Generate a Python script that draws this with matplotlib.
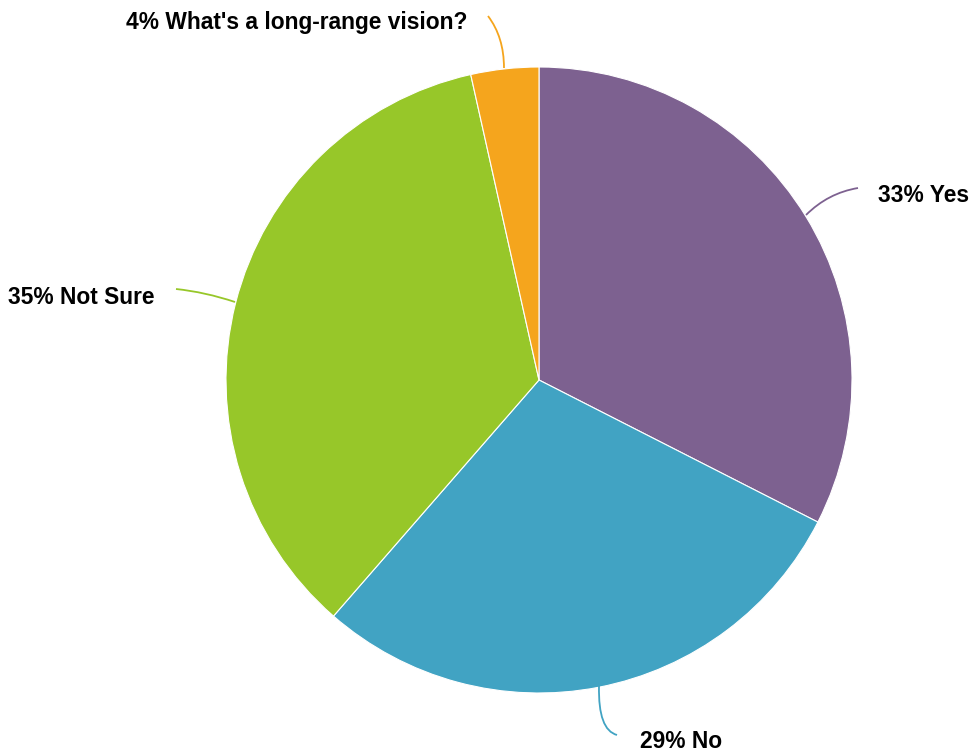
import matplotlib.pyplot as plt
from matplotlib.path import Path
from matplotlib.patches import PathPatch

# Datos del gráfico
labels = ["Yes", "No", "Not Sure", "What's a long-range vision?"]
values = [32.5, 28.9, 35.1, 3.5]
pct_text = ["33%", "29%", "35%", "4%"]
colors = ["#7D6190", "#41A3C3", "#97C729", "#F5A51D"]

W, H = 974, 755
cx, cy, r = 539, H - 380, 313

fig = plt.figure(figsize=(W / 100, H / 100), dpi=100)
ax = fig.add_axes([0, 0, 1, 1])

ax.pie(values, colors=colors, startangle=90, counterclock=False,
       center=(cx, cy), radius=r, frame=True,
       wedgeprops={"linewidth": 0.8, "edgecolor": "white"})
ax.set_xlim(0, W)
ax.set_ylim(0, H)
ax.set_aspect("equal")
ax.axis("off")

# Líneas guía (inicio, control, fin) en coordenadas de imagen
leaders = [
    [(806, 215), (828, 193), (858, 188)],
    [(599, 686), (598, 730), (617, 735)],
    [(235, 302), (205, 292), (176, 289)],
    [(504, 68), (504, 37), (488, 16)],
]
text_pos = [(878, 195, "left"), (640, 742, "left"),
            (155, 297, "right"), (467, 22, "right")]

for pts, col in zip(leaders, colors):
    verts = [(x, H - y) for x, y in pts]
    path = Path(verts, [Path.MOVETO, Path.CURVE3, Path.CURVE3])
    ax.add_patch(PathPatch(path, fill=False, edgecolor=col, linewidth=1.3))

for (x, y, ha), p, lab in zip(text_pos, pct_text, labels):
    ax.text(x, H - y, p + " " + lab, ha=ha, va="center", fontsize=16.4,
            fontweight="bold", family="Liberation Sans", color="black")

fig.savefig("out.png", dpi=100)
